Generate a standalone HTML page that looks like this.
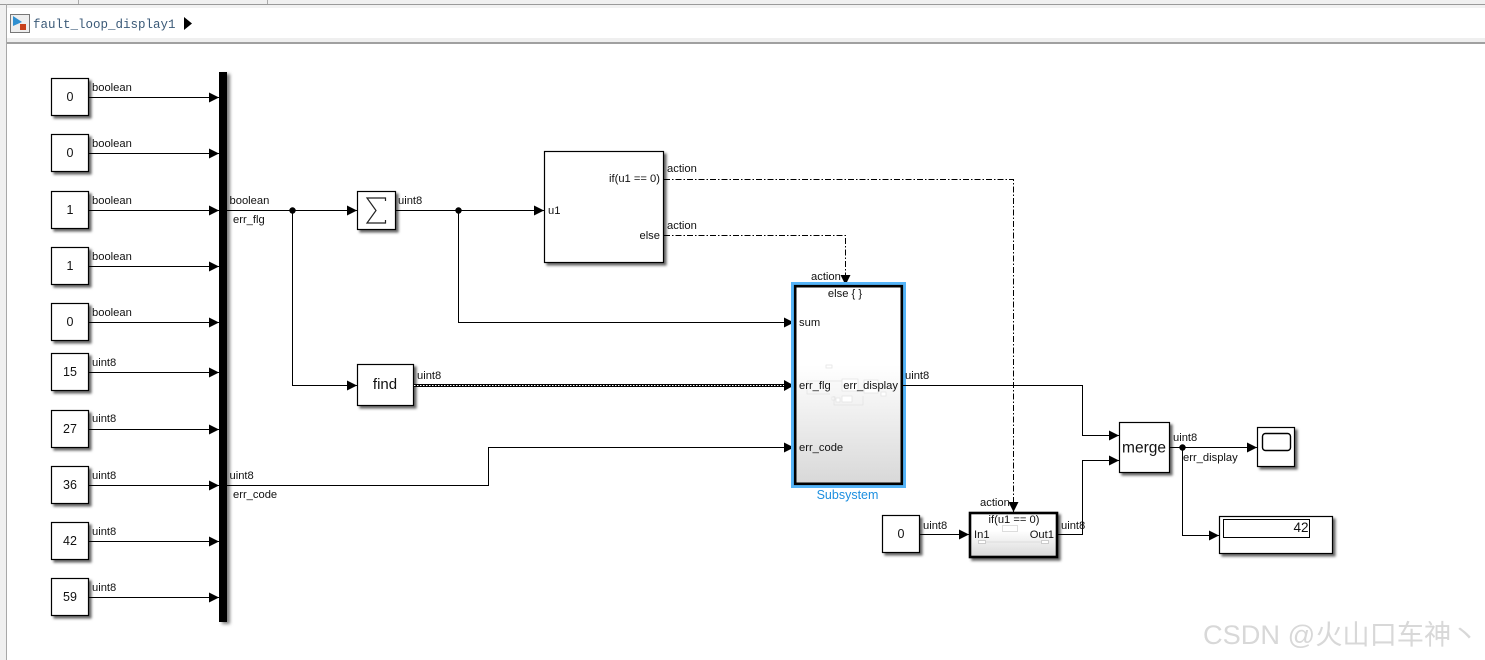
<!DOCTYPE html>
<html><head><meta charset="utf-8"><style>
html,body{margin:0;padding:0;background:#fff}
svg{display:block}
text{font-family:"Liberation Sans",Arial,sans-serif;font-size:11.2px;fill:#111}
.l{fill:none;stroke:#000;stroke-width:1}
.d{fill:none;stroke:#000;stroke-width:1;stroke-dasharray:6 2 1.5 2}
.b{fill:#fff;stroke:#000;stroke-width:1.2;filter:url(#s)}
.v{font-size:12.5px;text-anchor:middle}
</style></head><body>
<svg width="1485" height="660" viewBox="0 0 1485 660" xmlns="http://www.w3.org/2000/svg">
<defs>
<filter id="s" x="-20%" y="-20%" width="150%" height="150%"><feDropShadow dx="2.5" dy="2.5" stdDeviation="1.3" flood-color="#000" flood-opacity=".6"/></filter>
<filter id="bs" x="-200%" y="-5%" width="500%" height="110%"><feDropShadow dx="3" dy="2" stdDeviation="1.5" flood-color="#000" flood-opacity=".5"/></filter>
<linearGradient id="g" x1="0" y1="0" x2="0" y2="1"><stop offset="0" stop-color="#fff"/><stop offset=".4" stop-color="#fff"/><stop offset="1" stop-color="#d8d8d8"/></linearGradient>
<marker id="a" markerUnits="userSpaceOnUse" markerWidth="11" markerHeight="11" refX="10" refY="5.500" orient="auto"><path d="M0 .5L10 5.500L0 10.500z" fill="#000"/></marker>
</defs>
<!-- chrome -->
<rect x="0" y="0" width="1485" height="660" fill="#fff"/>
<rect x="0" y="0" width="1485" height="4" fill="#f0f0f0"/>
<rect x="0" y="4" width="1485" height="1" fill="#9a9a9a"/>
<rect x="0" y="5" width="6" height="655" fill="#f0f0f0"/>
<rect x="6" y="4" width="1" height="656" fill="#a8a8a8"/>
<rect x="78" y="0" width="1" height="4" fill="#aaa"/>
<rect x="267" y="0" width="1" height="4" fill="#aaa"/>
<rect x="7" y="5" width="1478" height="3" fill="#f2f2f2"/>
<rect x="7" y="38" width="1478" height="4" fill="#efefef"/>
<rect x="7" y="42" width="1478" height="2" fill="#a0a0a0"/>
<!-- breadcrumb icon -->
<rect x="10.500" y="14.500" width="19" height="18" fill="#eee" stroke="#777"/>
<path d="M13 16L22 22L13 26z" fill="#2f8fd0"/>
<rect x="20" y="24" width="6" height="6" fill="#c8401a"/>
<text x="33" y="28" style="font-family:'Liberation Mono',monospace;font-size:12.500px;fill:#3b5a78">fault_loop_display1</text>
<path d="M184 17L192 23.500L184 30z" fill="#000"/>

<!-- bus -->
<rect x="219" y="72" width="8" height="550" fill="#000" filter="url(#bs)"/>

<!-- constants -->
<g>
<rect class="b" x="51.500" y="78.500" width="37" height="37"/>
<rect class="b" x="51.500" y="134.500" width="37" height="37"/>
<rect class="b" x="51.500" y="191.500" width="37" height="37"/>
<rect class="b" x="51.500" y="247.500" width="37" height="37"/>
<rect class="b" x="51.500" y="303.500" width="37" height="37"/>
<rect class="b" x="51.500" y="353.500" width="37" height="37"/>
<rect class="b" x="51.500" y="410.500" width="37" height="37"/>
<rect class="b" x="51.500" y="466.500" width="37" height="37"/>
<rect class="b" x="51.500" y="522.500" width="37" height="37"/>
<rect class="b" x="51.500" y="578.500" width="37" height="37"/>
</g>
<text class="v" x="70" y="101">0</text>
<text class="v" x="70" y="157">0</text>
<text class="v" x="70" y="214">1</text>
<text class="v" x="70" y="270">1</text>
<text class="v" x="70" y="326">0</text>
<text class="v" x="70" y="376">15</text>
<text class="v" x="70" y="433">27</text>
<text class="v" x="70" y="489">36</text>
<text class="v" x="70" y="545">42</text>
<text class="v" x="70" y="601">59</text>

<path class="l" marker-end="url(#a)" d="M89 97.500H219"/>
<path class="l" marker-end="url(#a)" d="M89 153.500H219"/>
<path class="l" marker-end="url(#a)" d="M89 210.500H219"/>
<path class="l" marker-end="url(#a)" d="M89 266.500H219"/>
<path class="l" marker-end="url(#a)" d="M89 322.500H219"/>
<path class="l" marker-end="url(#a)" d="M89 372.500H219"/>
<path class="l" marker-end="url(#a)" d="M89 429.500H219"/>
<path class="l" marker-end="url(#a)" d="M89 485.500H219"/>
<path class="l" marker-end="url(#a)" d="M89 541.500H219"/>
<path class="l" marker-end="url(#a)" d="M89 597.500H219"/>
<text x="92" y="91">boolean</text>
<text x="92" y="147">boolean</text>
<text x="92" y="204">boolean</text>
<text x="92" y="260">boolean</text>
<text x="92" y="316">boolean</text>
<text x="92" y="366">uint8</text>
<text x="92" y="422">uint8</text>
<text x="92" y="479">uint8</text>
<text x="92" y="535">uint8</text>
<text x="92" y="591">uint8</text>

<!-- main wires -->
<path class="l" marker-end="url(#a)" d="M227 210.500H357"/>
<path class="l" marker-end="url(#a)" d="M292.500 210.500V385.500H357"/>
<circle cx="292.500" cy="210.500" r="3.200" fill="#000"/>
<text x="229.500" y="204">boolean</text>
<text x="233" y="223">err_flg</text>
<path class="l" marker-end="url(#a)" d="M227 485.500H488.500V447.500H794"/>
<text x="229.500" y="479">uint8</text>
<text x="233" y="498">err_code</text>

<!-- sum -->
<rect class="b" x="357.500" y="191.500" width="38" height="38"/>
<path d="M385.500 201V198H367L376 210.500L367 223H385.500V220" fill="none" stroke="#222" stroke-width="1.200"/>
<path class="l" marker-end="url(#a)" d="M396 210.500H544"/>
<path class="l" marker-end="url(#a)" d="M458.500 210.500V322.500H794"/>
<circle cx="458.500" cy="210.500" r="3.200" fill="#000"/>
<text x="398" y="204">uint8</text>

<!-- if -->
<rect class="b" x="544.500" y="151.500" width="119" height="111"/>
<text x="548" y="214">u1</text>
<text x="660" y="182" text-anchor="end">if(u1 == 0)</text>
<text x="660" y="239" text-anchor="end">else</text>
<text x="667" y="172">action</text>
<text x="667" y="229">action</text>
<path class="d" marker-end="url(#a)" d="M664 179.500H1013.500V512"/>
<path class="d" marker-end="url(#a)" d="M664 235.500H845.500V285"/>

<!-- find -->
<rect class="b" x="357.500" y="364.500" width="56" height="41"/>
<text x="385" y="389" text-anchor="middle" style="font-size:15px">find</text>
<path d="M414 385.500H786" fill="none" stroke="#000" stroke-width="3"/>
<path d="M414 385.500H786" fill="none" stroke="#fff" stroke-width="1" stroke-dasharray="1.500 1.500"/>
<path d="M784 380L794 385.500L784 391z" fill="#000"/>
<text x="417" y="379">uint8</text>

<!-- subsystem -->
<rect x="792.500" y="283.500" width="112" height="203" fill="none" stroke="#55b4f8" stroke-width="3"/>
<rect x="795.200" y="286.200" width="106.600" height="197.600" fill="url(#g)" stroke="#000" stroke-width="2.600"/>
<g fill="#fff" stroke="#e2e2e2" stroke-width=".7">
<rect x="826" y="365" width="6" height="3"/>
<path d="M807 381H842M807 381V394H830" fill="none"/>
<rect x="842" y="379" width="16" height="12"/>
<rect x="864" y="380" width="14" height="13"/>
<rect x="842" y="396" width="10" height="6"/>
<rect x="832" y="397" width="3" height="3"/>
<rect x="836" y="398" width="4" height="4"/>
<rect x="881" y="392" width="5" height="4"/>
<path d="M834 396V405H863V396" fill="none"/>
</g>
<text x="845" y="297" text-anchor="middle">else { }</text>
<text x="799" y="326">sum</text>
<text x="799" y="389">err_flg</text>
<text x="898" y="389" text-anchor="end">err_display</text>
<text x="799" y="451">err_code</text>
<text x="811" y="280">action</text>
<text x="847.500" y="499" text-anchor="middle" style="font-size:12.500px;fill:#1c8fe0">Subsystem</text>
<path class="l" marker-end="url(#a)" d="M903 385.500H1082.500V435.500H1119"/>
<text x="905" y="379">uint8</text>

<!-- lower if action -->
<rect class="b" x="882.500" y="515.500" width="37" height="37"/>
<text class="v" x="901" y="538">0</text>
<path class="l" marker-end="url(#a)" d="M920 534.500H969"/>
<text x="923" y="529">uint8</text>
<rect x="970" y="513" width="87" height="44" fill="url(#g)" stroke="#000" stroke-width="2.600" filter="url(#s)"/>
<rect x="1002.500" y="525.500" width="15" height="6" fill="#fff" stroke="#ddd"/>
<path d="M982 542H1045" stroke="#ddd" fill="none"/>
<rect x="978.500" y="540.500" width="7" height="3" fill="#fff" stroke="#ccc"/>
<rect x="1041.500" y="540.500" width="7" height="3" fill="#fff" stroke="#ccc"/>
<text x="1014" y="523" text-anchor="middle">if(u1 == 0)</text>
<text x="974" y="538">In1</text>
<text x="1054" y="538" text-anchor="end">Out1</text>
<text x="980" y="506">action</text>
<path class="l" marker-end="url(#a)" d="M1058 534.500H1082.500V460.500H1119"/>
<text x="1061" y="529">uint8</text>

<!-- merge -->
<rect class="b" x="1119.500" y="422.500" width="50" height="50"/>
<text x="1144" y="452.500" text-anchor="middle" style="font-size:15.500px">merge</text>
<path class="l" marker-end="url(#a)" d="M1170 447.500H1257"/>
<path class="l" marker-end="url(#a)" d="M1182.500 447.500V535.500H1219"/>
<circle cx="1182.500" cy="447.500" r="3.200" fill="#000"/>
<text x="1173" y="441">uint8</text>
<text x="1183" y="461">err_display</text>

<!-- scope -->
<rect class="b" x="1257.500" y="427.500" width="37" height="39"/>
<rect x="1262.500" y="433.500" width="28" height="17" rx="3" fill="#fff" stroke="#000" stroke-width="1.400"/>

<!-- display -->
<rect class="b" x="1219.500" y="516.500" width="113" height="37"/>
<rect x="1223.500" y="519.500" width="86" height="18" fill="#fff" stroke="#000"/>
<text x="1308.500" y="532" text-anchor="end" style="font-size:13.500px">42</text>

<!-- watermark -->
<text x="1203" y="644" style="font-family:'Liberation Sans','Noto Sans CJK SC',sans-serif;font-size:27.200px;fill:#d8d8d8">CSDN @火山口车神丶</text>
</svg>
</body></html>
